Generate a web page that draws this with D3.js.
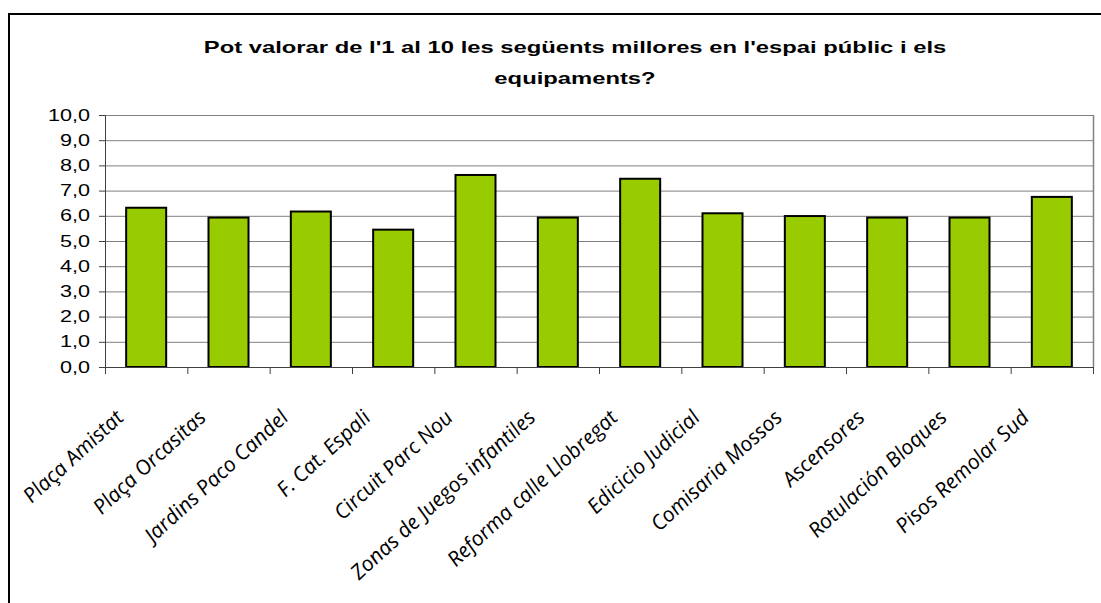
<!DOCTYPE html>
<html>
<head>
<meta charset="utf-8">
<script src="https://cdn.jsdelivr.net/npm/d3@7"></script>
<style>
  body { margin: 0; background: #fff; }
</style>
</head>
<body>
<div id="chart"></div>
<script>
const categories = [
  "Plaça Amistat", "Plaça Orcasitas", "Jardins Paco Candel", "F. Cat. Espali",
  "Circuit Parc Nou", "Zonas de Juegos infantiles", "Reforma calle Llobregat",
  "Edicicio Judicial", "Comisaria Mossos", "Ascensores", "Rotulación Bloques",
  "Pisos Remolar Sud"
];
const values = [6.32, 5.93, 6.17, 5.45, 7.62, 5.93, 7.47, 6.10, 5.99, 5.93, 5.93, 6.75];
const yTicks = [0, 1, 2, 3, 4, 5, 6, 7, 8, 9, 10];
const titleLines = [
  "Pot valorar de l'1 al 10 les següents millores en l'espai públic i els",
  "equipaments?"
];

const width = 1101;
const height = 603;
const plot = { left: 105, right: 1093, top: 115, bottom: 367 };
const stretch = 1.35; // the original text is drawn wider than it is tall

const svg = d3.select("#chart")
  .append("svg")
    .attr("width", width)
    .attr("height", height);

svg.append("rect")
  .attr("width", width)
  .attr("height", height)
  .attr("fill", "#fff");

// outer chart frame (runs off the right and bottom edges)
svg.append("rect")
  .attr("x", 9)
  .attr("y", 14)
  .attr("width", 1200)
  .attr("height", 800)
  .attr("fill", "none")
  .attr("stroke", "#000")
  .attr("stroke-width", 2);

// title
svg.append("g")
  .selectAll("text")
  .data(titleLines)
  .join("text")
    .attr("transform", (d, i) => `translate(575,${53 + i * 31}) scale(1.4,1)`)
    .attr("text-anchor", "middle")
    .style("font-family", "'Liberation Sans', Arial, sans-serif")
    .style("font-weight", "bold")
    .style("font-size", "17px")
    .text(d => d);

const x = d3.scaleBand()
  .domain(categories)
  .range([plot.left, plot.right])
  .paddingInner(0.514)
  .paddingOuter(0.257);

const xEdges = d3.scaleLinear()
  .domain([0, categories.length])
  .range([plot.left, plot.right]);

const y = d3.scaleLinear()
  .domain([0, 10])
  .range([plot.bottom, plot.top]);

// gridlines
svg.append("g")
  .selectAll("line")
  .data(yTicks.filter(d => d > 0))
  .join("line")
    .attr("x1", plot.left)
    .attr("x2", plot.right)
    .attr("y1", d => y(d) + 0.5)
    .attr("y2", d => y(d) + 0.5)
    .attr("stroke", "#808080")
    .attr("stroke-width", 1);

// right border of plot area
svg.append("line")
  .attr("x1", plot.right + 0.5)
  .attr("x2", plot.right + 0.5)
  .attr("y1", plot.top)
  .attr("y2", plot.bottom)
  .attr("stroke", "#808080")
  .attr("stroke-width", 1.5);

// bars
svg.append("g")
  .selectAll("rect")
  .data(values)
  .join("rect")
    .attr("x", (d, i) => x(categories[i]))
    .attr("y", d => y(d))
    .attr("width", x.bandwidth())
    .attr("height", d => y(0) - y(d))
    .attr("fill", "#99CC00")
    .attr("stroke", "#000")
    .attr("stroke-width", 2);

// y axis
const yAxis = svg.append("g")
  .attr("transform", `translate(${plot.left},0)`)
  .call(d3.axisLeft(y)
    .tickValues(yTicks)
    .tickSize(6)
    .tickPadding(9)
    .tickFormat(d => d.toFixed(1).replace(".", ",")));
yAxis.select(".domain").attr("stroke", "#404040");
yAxis.selectAll(".tick line").attr("stroke", "#404040");
yAxis.selectAll("text")
  .attr("x", -15 / stretch)
  .attr("transform", `scale(${stretch},1)`)
  .attr("fill", "#000")
  .style("font-family", "'Liberation Sans', Arial, sans-serif")
  .style("font-size", "16px");

// x axis (ticks at category edges)
const xAxis = svg.append("g")
  .attr("transform", `translate(0,${plot.bottom})`)
  .call(d3.axisBottom(xEdges)
    .tickValues(d3.range(categories.length + 1))
    .tickSizeOuter(0)
    .tickSize(7)
    .tickFormat(""));
xAxis.select(".domain").attr("stroke", "#404040");
xAxis.selectAll(".tick line").attr("stroke", "#404040");

// rotated category labels
svg.append("g")
  .selectAll("text")
  .data(categories)
  .join("text")
    .attr("transform", d => `translate(${x(d) + x.bandwidth() / 2 - 21},${plot.bottom + 52}) scale(1.1,1) rotate(-45)`)
    .attr("text-anchor", "end")
    .style("font-family", "'Open Sans', sans-serif")
    .style("font-style", "italic")
    .style("font-size", "20px")
    .text(d => d);
</script>
</body>
</html>
